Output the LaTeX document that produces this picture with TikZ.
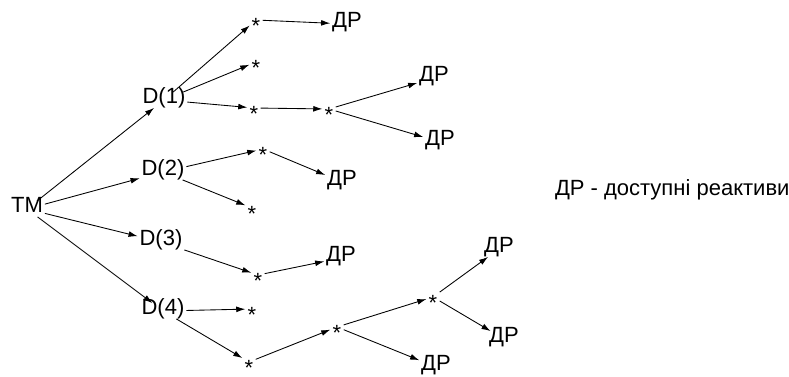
\documentclass[tikz,border=0pt]{standalone}
\usepackage{fontspec}
\setmainfont{Liberation Sans}
\usetikzlibrary{arrows.meta}
% asterisk lowered so that the node centre sits on the glyph
\newcommand\starglyph{\raisebox{-0.6em}[0.14em][0.14em]{*}}
\tikzset{
  lbl/.style={inner sep=1.5pt, outer sep=0pt, text height=0.72em, text depth=0.17em,
              font=\fontsize{16.5}{19}\selectfont},
  st/.style={inner sep=1.8pt, outer sep=0pt, font=\fontsize{16.5}{19}\selectfont},
  conn/.style={-{Latex[length=6.8pt,width=4.4pt]}, line width=0.65pt},
}
\begin{document}
\begin{tikzpicture}[x=0.75pt, y=-0.75pt]
\useasboundingbox (0,0) rectangle (789,377);
% root and the four D branches
\node[lbl] (tm) at (27,209) {TM};
\node[lbl] (d1) at (164,100) {D(1)};
\node[lbl] (d2) at (163,172) {D(2)};
\node[lbl] (d3) at (161,242) {D(3)};
\node[lbl] (d4) at (163,311) {D(4)};
% intermediate steps
\node[st] (s1) at (256,20) {\starglyph};
\node[st] (s2) at (256,62) {\starglyph};
\node[st] (s3) at (254,108) {\starglyph};
\node[st] (s4) at (329,109) {\starglyph};
\node[st] (s5) at (263,149) {\starglyph};
\node[st] (s6) at (252,208) {\starglyph};
\node[st] (s7) at (258,275) {\starglyph};
\node[st] (s8) at (252,309) {\starglyph};
\node[st] (s9) at (249,362) {\starglyph};
\node[st] (s10) at (337,327) {\starglyph};
\node[st] (s11) at (433,297) {\starglyph};
% available reagents
\node[lbl] (ra) at (347,24) {ДР};
\node[lbl] (rb) at (434,78) {ДР};
\node[lbl] (rc) at (440,142) {ДР};
\node[lbl] (rd) at (342,182) {ДР};
\node[lbl] (re) at (341,258) {ДР};
\node[lbl] (rf) at (499,249) {ДР};
\node[lbl] (rg) at (504,339) {ДР};
\node[lbl] (rh) at (436,367) {ДР};
% legend
\node[lbl, anchor=west] (leg) at (553,192) {ДР - доступні реактиви};
% connectors
\draw[conn] (tm) -- (d1);
\draw[conn] (tm) -- (d2);
\draw[conn] (tm) -- (d3);
\draw[conn] (tm) -- (d4);
\draw[conn] (d1) -- (s1);
\draw[conn] (d1) -- (s2);
\draw[conn] (d1) -- (s3);
\draw[conn] (s1) -- (ra);
\draw[conn] (s3) -- (s4);
\draw[conn] (s4) -- (rb);
\draw[conn] (s4) -- (rc);
\draw[conn] (d2) -- (s5);
\draw[conn] (d2) -- (s6);
\draw[conn] (s5) -- (rd);
\draw[conn] (d3) -- (s7);
\draw[conn] (s7) -- (re);
\draw[conn] (d4) -- (s8);
\draw[conn] (d4) -- (s9);
\draw[conn] (s9) -- (s10);
\draw[conn] (s10) -- (s11);
\draw[conn] (s10) -- (rh);
\draw[conn] (s11) -- (rf);
\draw[conn] (s11) -- (rg);
\end{tikzpicture}
\end{document}
